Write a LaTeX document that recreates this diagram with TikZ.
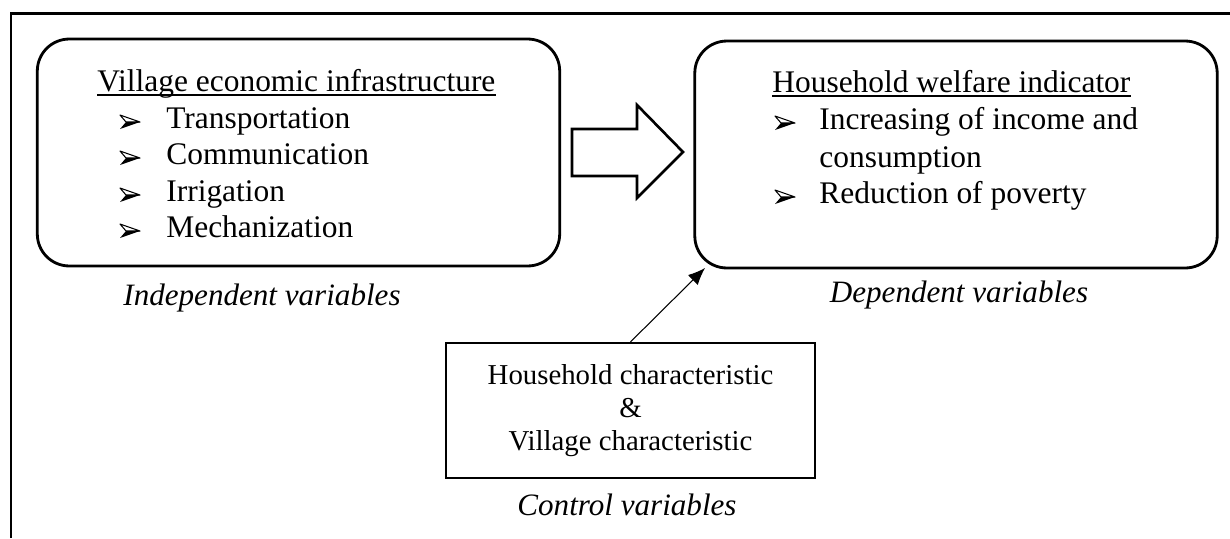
\documentclass[tikz,border=0pt]{standalone}
\usepackage{fontspec}
\setmainfont{Liberation Serif}
\usetikzlibrary{positioning,arrows.meta}

\begin{document}
\begin{tikzpicture}[x=0.02cm,y=-0.02cm,
    txt/.style={inner sep=0pt,anchor=base west,font=\fontsize{17.9}{21}\selectfont},
    lbl/.style={inner sep=0pt,anchor=base,font=\fontsize{17.7}{21}\selectfont\itshape},
    varbox/.style={draw,line width=1.6pt,rounded corners=0.64cm,minimum width=10.45cm,minimum height=4.54cm},
    ctrlbox/.style={draw,line width=1.3pt,minimum width=7.38cm,minimum height=2.7cm,align=center,font=\fontsize{16.4}{18.6}\selectfont},
    uline/.style={line width=1pt},
    bullet/.pic={
        \draw[line width=0.6pt,line join=round] (0,-13) -- (20,-6) -- (6,-6) -- cycle;
        \fill[line join=round] (6,-6) -- (20,-6) -- (0,1) -- cycle;
    }]
    \useasboundingbox (0,0) rectangle (1230,538);

    % frame
    \draw[line width=1.5pt] (11,538) -- (11,13.5) -- (1230,13.5);

    % independent
    \node[varbox] (indep) at (298.5,152.5) {};
    \node[txt] (t1) at (97,91) {Village economic infrastructure};
    \draw[uline] ([yshift=-0.08cm]t1.base west) -- ([yshift=-0.08cm]t1.base east);
    \pic at (120,128) {bullet};
    \node[txt] (i1) at (166,128) {Transportation};
    \pic at (120,164) {bullet};
    \node[txt] (i2) at (166,164) {Communication};
    \pic at (120,201) {bullet};
    \node[txt] (i3) at (166,201) {Irrigation};
    \pic at (120,237) {bullet};
    \node[txt] (i4) at (166,237) {Mechanization};
    \node[lbl] (l1) at (262,305) {Independent variables};

    % big arrow
    \draw[line width=1.5pt] (572,129) -- (637,129) -- (637,105) -- (683,152)
        -- (637,198) -- (637,176) -- (572,176) -- cycle;

    % dependent
    \node[varbox] (dep) at (956,154.5) {};
    \node[txt] (t2) at (772,92) {Household welfare indicator};
    \draw[uline] ([yshift=-0.08cm]t2.base west) -- ([yshift=-0.08cm]t2.base east);
    \pic at (775,129) {bullet};
    \node[txt] (d1) at (819,129) {Increasing of income and};
    \node[txt] (d1b) at (819,167) {consumption};
    \pic at (775,203) {bullet};
    \node[txt] (d2) at (819,203) {Reduction of poverty};
    \node[lbl] (l2) at (959,302) {Dependent variables};

    % control
    \node[ctrlbox] (ctrl) at (630.5,410.5) {Household characteristic\\\&\\Village characteristic};
    \node[lbl] (l3) at (627,515) {Control variables};
    \coordinate (tip) at (705,268);
    \draw[line width=0.6pt,-{Latex[length=0.34cm,width=0.28cm]}] (ctrl.north) -- (tip);
\end{tikzpicture}
\end{document}
